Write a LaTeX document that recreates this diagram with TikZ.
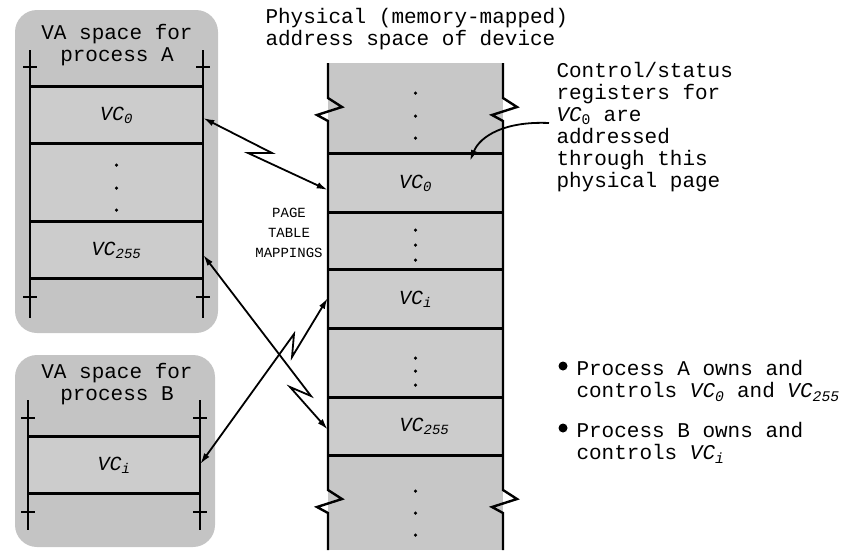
\documentclass[tikz,border=0pt]{standalone}
\usepackage{fontspec}
\setmonofont{Liberation Mono}
\usetikzlibrary{arrows.meta}
\usetikzlibrary{calc}

\newcommand{\vcsub}[1]{\textit{VC}\textsubscript{\textit{#1}}}

\begin{document}
\begin{tikzpicture}[x=1pt, y=-1pt, >={Latex[length=11pt,width=6.5pt]},
    font=\ttfamily\fontsize{21}{22}\selectfont,
    vaspace/.style={fill=gray!46, rounded corners=22pt},
    vrow/.style={fill=gray!40, draw=gray!22, line width=0.6pt, inner sep=0pt,
                 font=\ttfamily\fontsize{20}{22}\selectfont},
    arow/.style={vrow, minimum width=173pt},
    prow/.style={vrow, minimum width=175pt},
    rail/.style={line width=2.4pt},
    sep/.style={line width=2.8pt},
    map/.style={<->, line width=1.8pt},
    dot/.style={circle, fill=black, inner sep=0pt, minimum size=3.5pt}]

        \useasboundingbox (0,0) rectangle (854,550);

        % VA spaces
        \fill[vaspace] (15,10)  rectangle (218,333);
        \fill[vaspace] (15,355) rectangle (215,547);

        \node[align=center]                           (atitle) at (117,45)  {VA space for\\process A};
        \node[align=center]                           (btitle) at (117,384) {VA space for\\process B};

        \node[arow, minimum height=56pt]              (avc0)   at (116.5,115)   {\vcsub{0}};
        \node[arow, minimum height=79pt]              (adots)  at (116.5,182.5) {};
        \node[arow, minimum height=56pt]              (avcff)  at (116.5,250)   {\vcsub{255}};

        \node[arow, minimum height=56pt, minimum width=172pt] (bvci) at (114,465) {\vcsub{i}};

        \foreach \x in {30,203} {
          \draw[rail] (\x,50) -- (\x,318);
          \foreach \y in {67,297} \draw[rail] (\x-7,\y) -- (\x+7,\y);
        }
        \foreach \x in {28,200} {
          \draw[rail] (\x,400) -- (\x,530);
          \foreach \y in {418,512} \draw[rail] (\x-7,\y) -- (\x+7,\y);
        }

        \foreach \r in {avc0,avcff,bvci}
          \draw[sep] (\r.north west) -- (\r.north east)
                     (\r.south west) -- (\r.south east);

        \foreach \y in {165,188,210} \node[dot] at (116.5,\y) {};

        % physical address space
        \fill[gray!44] (328,63) rectangle (503,550);

        \node[prow, minimum height=58pt]              (pvc0)   at (415.5,183)   {\vcsub{0}};
        \node[prow, minimum height=58pt]              (pdotsa) at (415.5,241)   {};
        \node[prow, minimum height=58pt]              (pvci)   at (415.5,299)   {\vcsub{i}};
        \node[prow, minimum height=70pt]              (pdotsb) at (415.5,363)   {};
        \node[prow, minimum height=57pt]              (pvcff)  at (415.5,426.5) {\hspace{18pt}\vcsub{255}};

        \foreach \x in {328,503}
          \draw[rail, line join=miter] (\x,63) -- (\x,98) -- (\x+14,107) -- (\x-11,115) -- (\x,121)
                      -- (\x,490) -- (\x+14,499) -- (\x-11,507) -- (\x,513) -- (\x,550);

        \foreach \r in {pvc0,pvci,pvcff}
          \draw[sep] (\r.north west) -- (\r.north east)
                     (\r.south west) -- (\r.south east);

        \foreach \y in {93,116,138,230,245,260,358,371,385,491,513,535}
          \node[dot] at (415.5,\y) {};

        % texts
        \node[align=left, anchor=west]                (phys)   at (262,29)
             {Physical (memory-mapped)\\address space of device};
        \node[align=left, anchor=west]                (ctl)    at (553,127)
             {Control/status\\registers for\\\textit{VC}\textsubscript{0} are\\addressed\\through this\\physical page};
        \node[align=center, font=\ttfamily\fontsize{14}{20}\selectfont] (ptm) at (289,233)
             {PAGE\\TABLE\\MAPPINGS};

        \node[dot, minimum size=9pt]                  (bula)   at (563,366) {};
        \node[align=left, anchor=west]                (owna)   at (573,381)
             {Process A owns and\\controls \vcsub{0} and \vcsub{255}};
        \node[dot, minimum size=9pt]                  (bulb)   at (563,428) {};
        \node[align=left, anchor=west]                (ownb)   at (573,443)
             {Process B owns and\\controls \vcsub{i}};

        % page table mappings
        \coordinate (za1) at (272,153);
        \coordinate (za2) at (248,153);
        \coordinate (zb1) at (311,396);
        \coordinate (zb2) at (290,387);
        \coordinate (zc1) at (294,334);
        \coordinate (zc2) at (292,357);
        \coordinate (ctlfrom) at (549,123);
        \coordinate (ctlto)   at (470,161);

        \draw[map] ([yshift=-3pt]avc0.east)  -- (za1) -- (za2) -- ([yshift=-7pt]pvc0.west);
        \draw[map] ([yshift=-5pt]avcff.east) -- (zb1) -- (zb2) -- ([yshift=-3pt]pvcff.west);
        \draw[map] ([yshift=1pt]bvci.east)   -- (zc1) -- (zc2) -- ([yshift=1pt]pvci.west);

        \draw[->, line width=1.8pt] (ctlfrom) .. controls (505,121) and (480,136) .. (ctlto);

\end{tikzpicture}
\end{document}
